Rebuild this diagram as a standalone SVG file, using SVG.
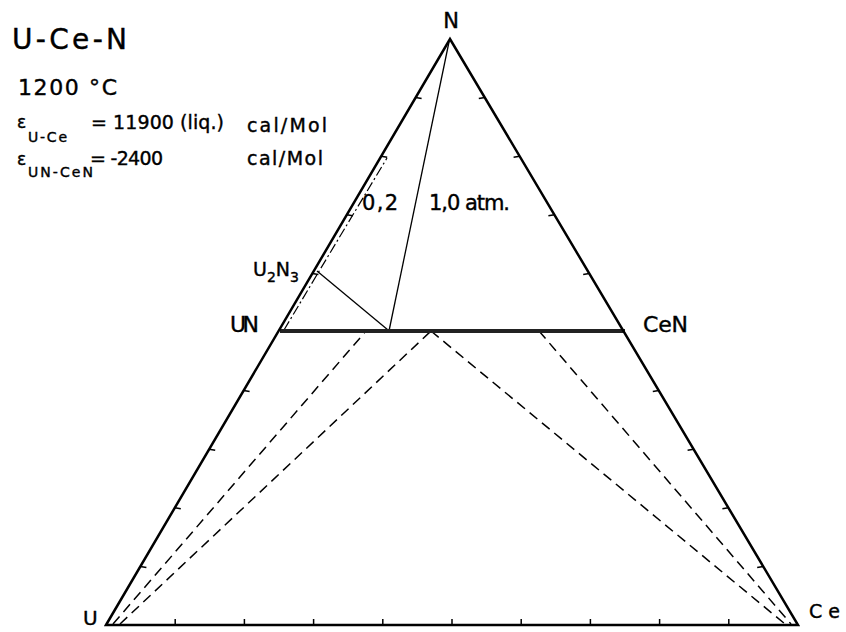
<svg xmlns="http://www.w3.org/2000/svg" width="846" height="632" viewBox="0 0 846 632">
<style>
  text { font-family: "DejaVu Sans", "Liberation Sans", Arial, sans-serif; fill: #000; stroke: #000; stroke-width: 0.4; }
  .edge { stroke: #000; stroke-width: 2.5; fill: none; stroke-linejoin: miter; }
  .tick { stroke: #000; stroke-width: 1.5; }
  .dash { stroke: #000; stroke-width: 1.5; stroke-dasharray: 10 6; fill: none; }
  .thin { stroke: #000; stroke-width: 1.3; fill: none; }
  .tie { stroke: #222; stroke-width: 4; }
  .dashdot { stroke: #000; stroke-width: 1.2; stroke-dasharray: 10 3 2 3; fill: none; }
</style>
<rect width="846" height="632" fill="#fff"/>

<g id="header">
  <text x="12" y="49" font-size="28" textLength="115" lengthAdjust="spacing">U-Ce-N</text>
  <text x="18" y="95" font-size="22" textLength="99" lengthAdjust="spacing">1200 °C</text>
  <text x="17" y="128" font-size="17">ε</text>
  <text x="28" y="142" font-size="14" textLength="39" lengthAdjust="spacing">U-Ce</text>
  <text x="91" y="129" font-size="19" textLength="133" lengthAdjust="spacing">= 11900 (liq.)</text>
  <text x="247" y="132" font-size="19" textLength="80" lengthAdjust="spacing">cal/Mol</text>
  <text x="17" y="165" font-size="17">ε</text>
  <text x="28" y="177" font-size="14" textLength="65" lengthAdjust="spacing">UN-CeN</text>
  <text x="90" y="165" font-size="19" textLength="73" lengthAdjust="spacing">= -2400</text>
  <text x="247" y="165" font-size="19" textLength="76" lengthAdjust="spacing">cal/Mol</text>
</g>

<g id="connectors">
  <path class="dash" d="M113 624 L366 331"/>
  <path class="dash" d="M120 624 L431 331"/>
  <path class="dash" d="M431 331 L785 624"/>
  <path class="dash" d="M539 331 L791 624"/>
  <path class="thin" d="M317 271 L388 330"/>
  <path class="thin" d="M389 331 L449 42"/>
  <path class="dashdot" d="M284 330 L318 273 L387 158"/>
  <line class="tie" x1="280" y1="331" x2="625" y2="331"/>
</g>

<g id="triangle">
  <path class="edge" d="M106 625 L450 39 L798 625 Z"/>
  <g class="tick">
    <line x1="175.2" y1="625" x2="175.2" y2="619"/>
    <line x1="244.4" y1="625" x2="244.4" y2="619"/>
    <line x1="313.6" y1="625" x2="313.6" y2="619"/>
    <line x1="382.8" y1="625" x2="382.8" y2="619"/>
    <line x1="452" y1="625" x2="452" y2="619"/>
    <line x1="521.2" y1="625" x2="521.2" y2="619"/>
    <line x1="590.4" y1="625" x2="590.4" y2="619"/>
    <line x1="659.6" y1="625" x2="659.6" y2="619"/>
    <line x1="728.8" y1="625" x2="728.8" y2="619"/>
    <line x1="140.4" y1="566.4" x2="146.4" y2="567.4"/>
    <line x1="174.8" y1="507.8" x2="180.8" y2="508.8"/>
    <line x1="209.2" y1="449.2" x2="215.2" y2="450.2"/>
    <line x1="243.6" y1="390.6" x2="249.6" y2="391.6"/>
    <line x1="312.4" y1="273.4" x2="318.4" y2="274.4"/>
    <line x1="346.8" y1="214.8" x2="352.8" y2="215.8"/>
    <line x1="381.2" y1="156.2" x2="387.2" y2="157.2"/>
    <line x1="415.6" y1="97.6" x2="421.6" y2="98.6"/>
    <line x1="763.2" y1="566.4" x2="757.2" y2="567.4"/>
    <line x1="728.4" y1="507.8" x2="722.4" y2="508.8"/>
    <line x1="693.6" y1="449.2" x2="687.6" y2="450.2"/>
    <line x1="658.8" y1="390.6" x2="652.8" y2="391.6"/>
    <line x1="589.2" y1="273.4" x2="583.2" y2="274.4"/>
    <line x1="554.4" y1="214.8" x2="548.4" y2="215.8"/>
    <line x1="519.6" y1="156.2" x2="513.6" y2="157.2"/>
    <line x1="484.8" y1="97.6" x2="478.8" y2="98.6"/>
  </g>
</g>

<g id="node-N"><text x="451" y="28" font-size="21" text-anchor="middle">N</text></g>
<g id="node-U"><text x="83" y="625" font-size="20">U</text></g>
<g id="node-Ce"><text x="809" y="618" font-size="19" textLength="31" lengthAdjust="spacing">Ce</text></g>
<g id="node-UN"><text x="230" y="332" font-size="22" textLength="29" lengthAdjust="spacing">UN</text></g>
<g id="node-CeN"><text x="643" y="332" font-size="22" textLength="45" lengthAdjust="spacing">CeN</text></g>
<g id="node-U2N3"><text x="253" y="276" font-size="19">U<tspan font-size="14" dy="6">2</tspan><tspan dy="-6">N</tspan><tspan font-size="14" dy="6">3</tspan></text></g>
<g id="label-02"><text x="362" y="210" font-size="21" textLength="36" lengthAdjust="spacing">0,2</text></g>
<g id="label-10"><text x="429" y="210" font-size="21" textLength="81" lengthAdjust="spacing">1,0 atm.</text></g>
</svg>
